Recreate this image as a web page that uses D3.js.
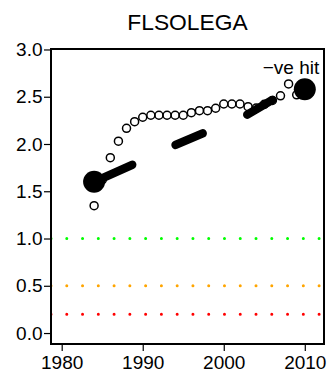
<!DOCTYPE html>
<html>
<head>
<meta charset="utf-8">
<script src="https://cdn.jsdelivr.net/npm/d3@7"></script>
<style>
html, body { margin: 0; padding: 0; background: #fff; }
svg { display: block; }
text { font-family: "Liberation Sans", Arial, sans-serif; fill: #000; }
</style>
</head>
<body>
<svg id="chart" width="333" height="375"></svg>
<script>
// ---- data ----
const title = "FLSOLEGA";
const years = [1984,1985,1986,1987,1988,1989,1990,1991,1992,1993,1994,1995,1996,1997,1998,1999,2000,2001,2002,2003,2004,2005,2006,2007,2008,2009,2010];
const indexValues = [1.347,1.62,1.855,2.03,2.166,2.236,2.283,2.304,2.304,2.304,2.304,2.304,2.331,2.352,2.352,2.378,2.423,2.423,2.423,2.395,2.38,2.42,2.46,2.51,2.635,2.52,2.58];
const trendStartYear = [1984, 1994.05, 2002.9];
const trendStartValue = [1.60, 1.99, 2.31];
const trendEndYear = [1988.7, 1997.4, 2006.0];
const trendEndValue = [1.78, 2.113, 2.466];
const hitYears = [1984, 2010];
const hitValues = [1.60, 2.58];
const refLevels = [1.0, 0.5, 0.2];
const refColors = ["#00FF00", "#FFA500", "#FF0000"];
const xTicks = [1980, 1990, 2000, 2010];
const yTicks = [0, 0.5, 1, 1.5, 2, 2.5, 3];
const hitLabel = "\u2212ve hit";
const hitLabelYear = 2008.3;
const hitLabelValue = 2.745;

// ---- layout ----
const svg = d3.select("#chart");
const pL = 51, pR = 324, pT = 49, pB = 344;
const x = d3.scaleLinear().domain([1978.68, 2012.37]).range([pL, pR]);
const y = d3.scaleLinear().domain([-0.116, 3.005]).range([pB, pT]);

svg.append("defs").append("clipPath").attr("id", "clip")
  .append("rect").attr("x", pL).attr("y", pT).attr("width", pR - pL).attr("height", pB - pT);

const plot = svg.append("g").attr("clip-path", "url(#clip)");

// reference dotted lines
plot.selectAll("line.ref").data(refLevels).enter().append("line")
  .attr("class", "ref")
  .attr("x1", pL).attr("x2", pR)
  .attr("y1", d => y(d)).attr("y2", d => y(d))
  .attr("stroke", (d, i) => refColors[i])
  .attr("stroke-width", 3)
  .attr("stroke-linecap", "round")
  .attr("stroke-dasharray", "0.01 15.76");

// open circles
plot.selectAll("circle.idx").data(years).enter().append("circle")
  .attr("class", "idx")
  .attr("cx", d => x(d))
  .attr("cy", (d, i) => y(indexValues[i]))
  .attr("r", 4)
  .attr("fill", "none")
  .attr("stroke", "#000")
  .attr("stroke-width", 1.5);

// thick trend segments
plot.selectAll("line.trend").data(trendStartYear).enter().append("line")
  .attr("class", "trend")
  .attr("x1", d => x(d))
  .attr("y1", (d, i) => y(trendStartValue[i]))
  .attr("x2", (d, i) => x(trendEndYear[i]))
  .attr("y2", (d, i) => y(trendEndValue[i]))
  .attr("stroke", "#000")
  .attr("stroke-width", 8.5)
  .attr("stroke-linecap", "round");

// big hit dots
plot.selectAll("circle.hit").data(hitYears).enter().append("circle")
  .attr("class", "hit")
  .attr("cx", d => x(d))
  .attr("cy", (d, i) => y(hitValues[i]))
  .attr("r", 11)
  .attr("fill", "#000");

// frame
svg.append("rect")
  .attr("x", pL).attr("y", pT)
  .attr("width", pR - pL).attr("height", pB - pT)
  .attr("fill", "none").attr("stroke", "#000").attr("stroke-width", 2);

// axes
const yAxis = d3.axisLeft(y).tickValues(yTicks).tickFormat(d3.format(".1f")).tickSize(7).tickPadding(1.5);
const gy = svg.append("g").attr("transform", `translate(${pL},0)`).call(yAxis);
gy.select(".domain").remove();
gy.selectAll(".tick line").attr("stroke-width", 1.2);

const xAxis = d3.axisBottom(x).tickValues(xTicks).tickFormat(d3.format("d")).tickSize(7).tickPadding(5);
const gx = svg.append("g").attr("transform", `translate(0,${pB})`).call(xAxis);
gx.select(".domain").remove();
gx.selectAll(".tick line").attr("stroke-width", 1.2);
svg.selectAll(".tick text")
  .attr("font-family", null).attr("font-size", null)
  .style("font-family", "'Liberation Sans', Arial, sans-serif")
  .style("font-size", "19px");

// title
svg.append("text")
  .attr("x", (pL + pR) / 2).attr("y", 30)
  .attr("text-anchor", "middle")
  .style("font-size", "22.8px")
  .text(title);

// hit label
svg.append("text")
  .attr("x", x(hitLabelYear)).attr("y", y(hitLabelValue))
  .attr("text-anchor", "middle")
  .style("font-size", "19px")
  .text(hitLabel);
</script>
</body>
</html>
